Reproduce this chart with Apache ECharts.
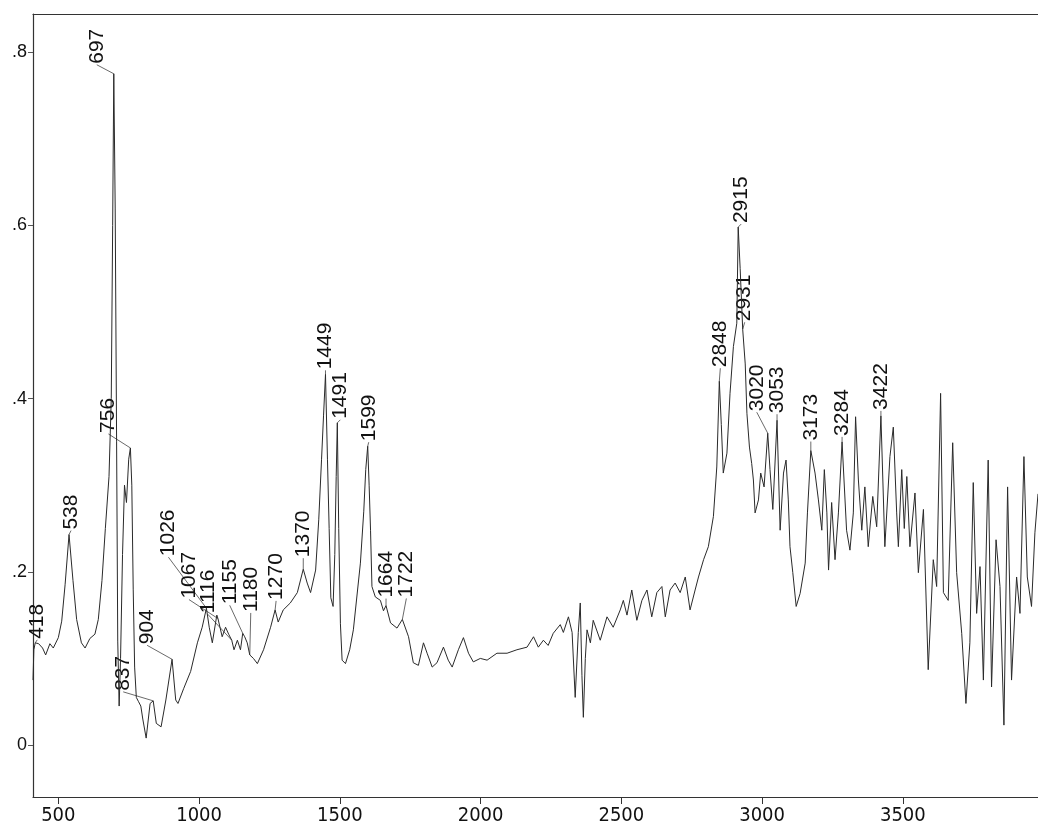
<!DOCTYPE html>
<html>
<head>
<meta charset="utf-8">
<title>IR spectrum</title>
<script src="https://cdn.jsdelivr.net/npm/echarts@6/dist/echarts.min.js"></script>
<style>
    html, body { margin: 0; padding: 0; background: #fff; }
    #chart { width: 1038px; height: 840px; }
</style>
</head>
<body>
<div id="chart"></div>
<script>
// spectrum: wavenumber (cm-1) and absorbance
const wavenumbers = [
    410, 413, 418, 430, 444, 455, 470, 482, 500, 512, 524, 538, 552, 565, 582, 595,
    612, 630, 642, 655, 667, 680, 688, 693, 697, 702, 707, 711, 716, 721, 728, 735,
    742, 750, 756, 761, 766, 771, 777, 785, 793, 800, 812, 826, 837, 848, 865, 882,
    904, 917, 925, 945, 970, 994, 1011, 1026, 1036, 1047, 1063, 1067, 1082, 1094, 1105, 1116,
    1124, 1136, 1147, 1155, 1162, 1171, 1180, 1193, 1207, 1229, 1254, 1270, 1281, 1299, 1324, 1349,
    1370, 1384, 1396, 1414, 1425, 1435, 1442, 1449, 1456, 1462, 1468, 1476, 1482, 1487, 1491, 1496,
    1502, 1508, 1520, 1535, 1548, 1573, 1585, 1592, 1599, 1604, 1609, 1614, 1626, 1644, 1655, 1664,
    1680, 1703, 1722, 1744, 1761, 1779, 1797, 1810, 1828, 1845, 1868, 1885, 1899, 1921, 1939, 1957,
    1974, 1999, 2023, 2058, 2094, 2129, 2165, 2188, 2205, 2223, 2240, 2258, 2283, 2294, 2312, 2325,
    2336, 2347, 2354, 2360, 2365, 2372, 2378, 2390, 2400, 2425, 2449, 2471, 2496, 2507, 2520, 2537,
    2555, 2573, 2591, 2608, 2626, 2644, 2656, 2673, 2691, 2709, 2727, 2744, 2762, 2774, 2792, 2809,
    2827, 2839, 2848, 2855, 2862, 2875, 2886, 2898, 2910, 2915, 2922, 2931, 2940, 2946, 2955, 2963,
    2969, 2975, 2987, 2995, 3007, 3020, 3028, 3038, 3053, 3064, 3076, 3085, 3093, 3099, 3109, 3121,
    3135, 3153, 3161, 3173, 3188, 3200, 3212, 3221, 3230, 3236, 3247, 3259, 3271, 3284, 3300, 3312,
    3324, 3332, 3342, 3354, 3365, 3377, 3393, 3407, 3422, 3436, 3454, 3466, 3478, 3484, 3496, 3505,
    3514, 3525, 3543, 3555, 3573, 3590, 3608, 3620, 3634, 3644, 3661, 3677, 3691, 3709, 3724, 3738,
    3750, 3762, 3774, 3786, 3803, 3815, 3831, 3845, 3859, 3872, 3886, 3904, 3916, 3930, 3942, 3957,
    3969, 3980
];
const absorbance = [
    0.075, 0.11, 0.118, 0.117, 0.112, 0.104, 0.117, 0.112, 0.124, 0.143, 0.185, 0.243, 0.19, 0.145, 0.118, 0.112,
    0.123, 0.128, 0.145, 0.19, 0.25, 0.31, 0.40, 0.60, 0.775, 0.62, 0.35, 0.12, 0.045, 0.10, 0.22, 0.30,
    0.28, 0.33, 0.343, 0.30, 0.18, 0.09, 0.055, 0.05, 0.045, 0.03, 0.008, 0.048, 0.051, 0.025, 0.021, 0.052,
    0.099, 0.052, 0.048, 0.065, 0.085, 0.118, 0.136, 0.158, 0.136, 0.118, 0.15, 0.146, 0.125, 0.136, 0.128, 0.121,
    0.11, 0.121, 0.11, 0.129, 0.125, 0.118, 0.104, 0.1, 0.094, 0.11, 0.136, 0.156, 0.142, 0.156, 0.164, 0.176,
    0.203, 0.187, 0.176, 0.202, 0.26, 0.33, 0.38, 0.428, 0.33, 0.25, 0.17, 0.16, 0.22, 0.31, 0.372, 0.25,
    0.14, 0.098, 0.094, 0.11, 0.133, 0.21, 0.27, 0.318, 0.345, 0.3, 0.248, 0.183, 0.171, 0.167, 0.155, 0.161,
    0.141, 0.135, 0.145, 0.125, 0.095, 0.092, 0.118, 0.106, 0.09, 0.095, 0.113, 0.098, 0.09, 0.11, 0.124, 0.106,
    0.096, 0.1, 0.098, 0.106, 0.106, 0.11, 0.113, 0.125, 0.113, 0.121, 0.115, 0.129, 0.139, 0.13, 0.148, 0.13,
    0.055, 0.13, 0.164, 0.08, 0.032, 0.1, 0.133, 0.118, 0.144, 0.121, 0.148, 0.136, 0.156, 0.167, 0.15, 0.179,
    0.144, 0.167, 0.179, 0.148, 0.176, 0.183, 0.148, 0.179, 0.187, 0.176, 0.194, 0.156, 0.179, 0.194, 0.214, 0.229,
    0.264, 0.321, 0.42, 0.37, 0.314, 0.337, 0.406, 0.46, 0.487, 0.598, 0.55, 0.48, 0.44, 0.383, 0.344, 0.325,
    0.306, 0.268, 0.283, 0.314, 0.298, 0.36, 0.318, 0.272, 0.375, 0.248, 0.314, 0.329, 0.283, 0.229, 0.199, 0.16,
    0.175, 0.21, 0.268, 0.34, 0.314, 0.283, 0.248, 0.318, 0.268, 0.202, 0.28, 0.214, 0.268, 0.35, 0.248, 0.225,
    0.268, 0.379, 0.306, 0.248, 0.298, 0.229, 0.287, 0.252, 0.38, 0.229, 0.333, 0.367, 0.268, 0.229, 0.318, 0.25,
    0.31, 0.229, 0.291, 0.199, 0.272, 0.087, 0.214, 0.183, 0.406, 0.176, 0.167, 0.349, 0.199, 0.129, 0.048, 0.118,
    0.303, 0.152, 0.206, 0.075, 0.329, 0.067, 0.237, 0.183, 0.023, 0.298, 0.075, 0.194, 0.152, 0.333, 0.194, 0.16,
    0.245, 0.29
];

// labelled peaks
const peakWavenumbers = [
    418, 538, 697, 756, 837, 904, 1026, 1067, 1116, 1155, 1180, 1270, 1370,
    1449, 1491, 1599, 1664, 1722, 2848, 2915, 2931, 3020, 3053, 3173, 3284, 3422
];
const peakAbsorbance = [
    0.118, 0.243, 0.775, 0.343, 0.051, 0.099, 0.158, 0.146, 0.121, 0.129, 0.104, 0.156, 0.203,
    0.428, 0.372, 0.345, 0.161, 0.145, 0.42, 0.598, 0.48, 0.36, 0.375, 0.34, 0.35, 0.38
];

const xTicks = [500, 1000, 1500, 2000, 2500, 3000, 3500];
const yTicks = [0, 0.2, 0.4, 0.6, 0.8];

// where each peak label sits relative to its peak (px), leader drawn between
const labelShift = [
    [2, -3], [2, -4], [-17, -9], [-22, -14], [-30, -9], [-25, -14], [-38, -51], [-29, -19],
    [-24, -26], [-13, -28], [1, -42], [1, -9], [0, -11], [0, -4], [3, -3], [1, -4],
    [0, -7], [4, -21], [1, -13], [3, -3], [2, -7], [-11, -21], [0, -6], [0, -9], [0, -5], [0, -5]
];

const ink = '#111';
const chart = echarts.init(document.getElementById('chart'), null, { renderer: 'canvas' });

const option = {
    animation: false,
    backgroundColor: '#fff',
    grid: { left: 33, right: 0, top: 14, bottom: 43 },
    xAxis: [
        {
            type: 'value',
            min: 410,
            max: 3980,
            axisLine: { show: true, onZero: false, lineStyle: { color: '#333', width: 1.2 } },
            axisTick: {
                show: true,
                length: 7,
                customValues: xTicks,
                lineStyle: { color: '#333' }
            },
            axisLabel: {
                customValues: xTicks,
                margin: 9,
                color: ink,
                fontSize: 20,
                fontFamily: '"Liberation Sans Narrow", "DejaVu Sans Condensed", "Liberation Sans", Arial, sans-serif',
                formatter: (v) => String(v)
            },
            splitLine: { show: false }
        },
        {
            type: 'value',
            position: 'top',
            min: 410,
            max: 3980,
            axisLine: { show: true, onZero: false, lineStyle: { color: '#333', width: 1.2 } },
            axisTick: { show: false },
            axisLabel: { show: false },
            splitLine: { show: false }
        }
    ],
    yAxis: {
        type: 'value',
        min: -0.06,
        max: 0.844,
        axisLine: { show: true, onZero: false, lineStyle: { color: '#333', width: 1.2 } },
        axisTick: {
            show: true,
            length: 5,
            customValues: yTicks,
            lineStyle: { color: '#555' }
        },
        axisLabel: {
            customValues: yTicks,
            margin: 6,
            color: ink,
            fontSize: 18,
            fontFamily: '"Liberation Sans", Arial, sans-serif',
            formatter: (v) => (v === 0 ? '0' : v.toFixed(1).replace(/^0/, ''))
        },
        splitLine: { show: false }
    },
    series: [
        {
            name: 'spectrum',
            type: 'line',
            data: wavenumbers.map((w, i) => [w, absorbance[i]]),
            showSymbol: false,
            smooth: false,
            lineStyle: { color: '#2a2a2a', width: 1 },
            silent: true
        },
        {
            name: 'peaks',
            type: 'custom',
            clip: false,
            silent: true,
            data: peakWavenumbers.map((w, i) => [w, peakAbsorbance[i]]),
            encode: { x: 0, y: 1 },
            renderItem: (params, api) => {
                const p = api.coord([api.value(0), api.value(1)]);
                const s = labelShift[params.dataIndex];
                const ax = p[0] + s[0];
                const ay = p[1] + s[1];
                return {
                    type: 'group',
                    children: [
                        {
                            type: 'line',
                            shape: { x1: p[0], y1: p[1], x2: ax, y2: ay },
                            style: { stroke: '#444', lineWidth: 0.8 }
                        },
                        {
                            type: 'text',
                            x: ax,
                            y: ay - 1,
                            rotation: Math.PI / 2,
                            style: {
                                text: String(api.value(0)),
                                fill: ink,
                                font: '21px "Liberation Sans", Arial, sans-serif',
                                align: 'left',
                                verticalAlign: 'middle'
                            }
                        }
                    ]
                };
            }
        }
    ]
};

chart.setOption(option);
</script>
</body>
</html>
